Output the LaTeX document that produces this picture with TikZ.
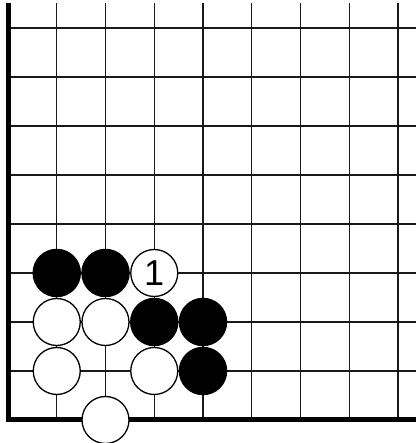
\documentclass[tikz,border=0pt]{standalone}
\usepackage{fontspec}
\setmainfont{Liberation Sans}
\begin{document}
\begin{tikzpicture}[x=1pt,y=1pt,
  gridline/.style={line width=1.4pt,black!90},
  edgeline/.style={line width=5pt,black},
  blackstone/.style={circle,fill=black,minimum size=48.5pt,inner sep=0pt},
  whitestone/.style={circle,draw=black,line width=1.3pt,fill=white,minimum size=47pt,inner sep=0pt,font=\fontsize{36}{36}\selectfont}]
\useasboundingbox (0,0) rectangle (417,443);
\begin{scope}[shift={(8,23)},x=48.75pt,y=49pt]
  % grid
  \foreach \i in {1,...,8} \draw[gridline] (\i,0) -- (\i,8.51);
  \foreach \j in {1,...,8} \draw[gridline] (0,\j) -- (8.37,\j);
  \draw[edgeline] (0,8.51) -- (0,0) -- (8.37,0);
  % stones
  \node[blackstone] (b1) at (1,3) {};
  \node[blackstone] (b2) at (2,3) {};
  \node[whitestone] (w1) at (3,3) {1};
  \node[whitestone] (w2) at (1,2) {};
  \node[whitestone] (w3) at (2,2) {};
  \node[blackstone] (b3) at (3,2) {};
  \node[blackstone] (b4) at (4,2) {};
  \node[whitestone] (w4) at (1,1) {};
  \node[whitestone] (w5) at (3,1) {};
  \node[blackstone] (b5) at (4,1) {};
  \node[whitestone] (w6) at (2,0) {};
\end{scope}
\end{tikzpicture}
\end{document}
